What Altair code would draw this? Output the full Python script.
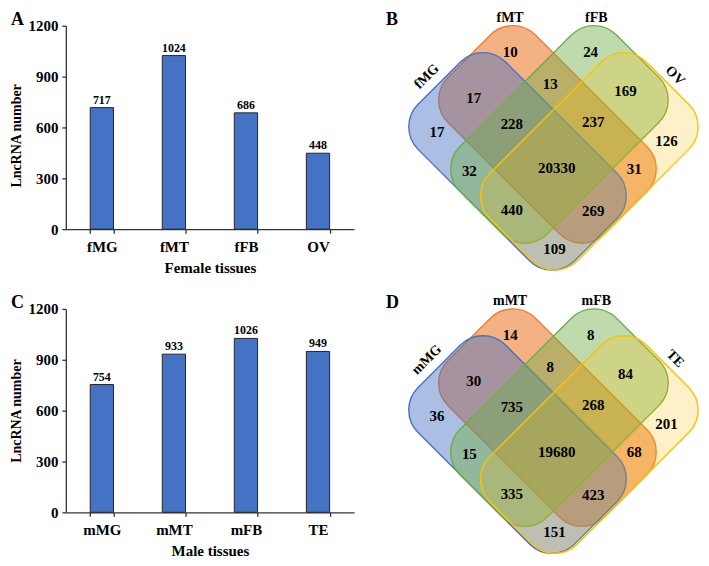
import altair as alt
import pandas as pd

FONT = "Liberation Serif"

# ---------------- data ----------------
female_tissues = ["fMG", "fMT", "fFB", "OV"]
female_counts = [717, 1024, 686, 448]
male_tissues = ["mMG", "mMT", "mFB", "TE"]
male_counts = [754, 933, 1026, 949]
y_ticks = [0, 300, 600, 900, 1200]

female_sets = ["fMG", "fMT", "fFB", "OV"]
male_sets = ["mMG", "mMT", "mFB", "TE"]
region_names = ["MT", "FB", "MG&MT", "MT&FB", "FB&OV", "MG", "MG&MT&FB",
                "MT&FB&OV", "OV", "MG&FB", "MG&MT&FB&OV", "MT&OV",
                "MG&FB&OV", "MG&MT&OV", "MG&OV"]
female_region_counts = [10, 24, 17, 13, 169, 17, 228, 237, 126, 32, 20330, 31, 440, 269, 109]
male_region_counts = [14, 8, 30, 8, 84, 36, 735, 268, 201, 15, 19680, 68, 335, 423, 151]

# ---------------- layout (venn geometry, px in panel frame) ----------------
VX0, VY0 = 373, 17
region_x = [521.7, 602.3, 485, 561.7, 637.3, 448.3, 523.3, 605, 678.3, 480.7, 568.3, 646, 523.3, 605, 566]
region_y = [43.3, 43.3, 89.3, 75, 82.7, 124, 115.7, 113.3, 132.7, 162.7, 160, 160.7, 202.3, 203.3, 240.7]
set_cx = [529, 559, 571, 601]
set_cy = [153, 126, 126, 153]
set_angle = [45, 45, 315, 315]
set_colors = ["#4472C4", "#ED7D31", "#70AD47", "#FFC000"]
set_fill_opacity = [0.45, 0.6, 0.45, 0.22]
draw_order = [1, 0, 2, 3]
label_x = [438, 521.5, 608, 687]
label_y = [68, 2, 2, 67]
label_angle = [315, 0, 0, 45]
RECT_L, RECT_W, RECT_R = 222, 124, 32
VW, VH = 338, 248


def rounded_rect_path(half_w, q):
    k = 0.5523 * q
    w = half_w
    f = lambda v: f"{v:.4f}"
    parts = [
        f"M{f(-1+q)},{f(-w)}",
        f"L{f(1-q)},{f(-w)}",
        f"C{f(1-q+k)},{f(-w)} 1,{f(-w+q-k)} 1,{f(-w+q)}",
        f"L1,{f(w-q)}",
        f"C1,{f(w-q+k)} {f(1-q+k)},{f(w)} {f(1-q)},{f(w)}",
        f"L{f(-1+q)},{f(w)}",
        f"C{f(-1+q-k)},{f(w)} -1,{f(w-q+k)} -1,{f(w-q)}",
        f"L-1,{f(-w+q)}",
        f"C-1,{f(-w+q-k)} {f(-1+q-k)},{f(-w)} {f(-1+q)},{f(-w)}",
        "Z",
    ]
    return " ".join(parts)


RR_PATH = rounded_rect_path(RECT_W / RECT_L, 2 * RECT_R / RECT_L)


def bar_panel(tissues, counts, letter, xtitle, ytitle_y):
    df = pd.DataFrame({"tissue": tissues, "count": counts})
    base = alt.Chart(df)
    x = alt.X("tissue:N", sort=tissues,
              scale=alt.Scale(paddingInner=0.677, paddingOuter=0.3385),
              axis=alt.Axis(title=xtitle, labelAngle=0, tickBand="extent", tickSize=4,
                            labelPadding=6, titleY=43, titleBaseline="alphabetic"))
    y = alt.Y("count:Q", scale=alt.Scale(domain=[0, 1200], nice=False),
              axis=alt.Axis(values=y_ticks, format="d", grid=False, title="LncRNA number",
                            titleAngle=270, titleX=-45, titleY=ytitle_y,
                            titleAlign="center", titleBaseline="alphabetic",
                            titleFontSize=14, tickSize=4, labelPadding=4))
    bars = base.mark_bar(color="#4472C4", stroke="#262626", strokeWidth=1).encode(x=x, y=y)
    labels = base.mark_text(dy=-4, baseline="alphabetic", font=FONT, fontSize=12,
                            fontWeight="bold", color="black").encode(
        x=alt.X("tissue:N", sort=tissues), y="count:Q", text="count:Q")
    let = alt.Chart(pd.DataFrame({"t": [letter]})).mark_text(
        align="left", baseline="top", font=FONT, fontSize=18, fontWeight="bold",
        color="black").encode(text="t:N", x=alt.value(-55), y=alt.value(-15))
    return alt.layer(bars, labels, let).properties(width=289, height=204)


def venn_panel(set_names, region_counts, letter):
    xs = alt.Scale(domain=[0, VW], nice=False, zero=False)
    ys = alt.Scale(domain=[0, VH], nice=False, zero=False, reverse=True)
    shapes = pd.DataFrame({
        "name": [set_names[i] for i in draw_order],
        "x": [set_cx[i] - VX0 for i in draw_order],
        "y": [set_cy[i] - VY0 for i in draw_order],
        "ang": [set_angle[i] for i in draw_order],
        "col": [set_colors[i] for i in draw_order],
        "fo": [set_fill_opacity[i] for i in draw_order],
    })
    shape_layer = alt.Chart(shapes).mark_point(
        shape=RR_PATH, filled=True, size=RECT_L * RECT_L, opacity=1,
        strokeWidth=1.4, strokeOpacity=1).encode(
        x=alt.X("x:Q", scale=xs, axis=None),
        y=alt.Y("y:Q", scale=ys, axis=None),
        fill=alt.Fill("col:N", scale=None),
        stroke=alt.Stroke("col:N", scale=None),
        fillOpacity=alt.FillOpacity("fo:Q", scale=None),
        angle=alt.Angle("ang:Q", scale=None),
    )
    regions = pd.DataFrame({
        "region": region_names,
        "n": region_counts,
        "x": [v - VX0 for v in region_x],
        "y": [v - VY0 for v in region_y],
    })
    count_layer = alt.Chart(regions).mark_text(
        font=FONT, fontSize=15, fontWeight="bold", color="black",
        align="center", baseline="middle").encode(
        x=alt.X("x:Q", scale=xs, axis=None), y=alt.Y("y:Q", scale=ys, axis=None),
        text="n:Q")
    labs = pd.DataFrame({
        "name": set_names,
        "x": [v - VX0 for v in label_x],
        "y": [v - VY0 for v in label_y],
        "ang": label_angle,
    })
    top_labs = alt.Chart(labs).transform_filter("datum.ang == 0").mark_text(
        font=FONT, fontSize=14, fontWeight="bold", color="black",
        align="center", baseline="top").encode(
        x=alt.X("x:Q", scale=xs, axis=None), y=alt.Y("y:Q", scale=ys, axis=None),
        text="name:N")
    rot_labs = alt.Chart(labs).transform_filter("datum.ang != 0").mark_text(
        font=FONT, fontSize=14, fontWeight="bold", color="black",
        align="center", baseline="middle").encode(
        x=alt.X("x:Q", scale=xs, axis=None), y=alt.Y("y:Q", scale=ys, axis=None),
        text="name:N", angle=alt.Angle("ang:Q", scale=None))
    let = alt.Chart(pd.DataFrame({"t": [letter]})).mark_text(
        align="left", baseline="top", font=FONT, fontSize=18, fontWeight="bold",
        color="black").encode(text="t:N", x=alt.value(24), y=alt.value(-15))
    return alt.layer(shape_layer, count_layer, top_labs, rot_labs, let).properties(
        width=VW, height=VH)


panelA = bar_panel(female_tissues, female_counts, "A", "Female tissues", 110)
panelB = venn_panel(female_sets, female_region_counts, "B")
panelC = bar_panel(male_tissues, male_counts, "C", "Male tissues", 102)
panelD = venn_panel(male_sets, male_region_counts, "D")

row1 = alt.hconcat(panelA, panelB, spacing=8)
row2 = alt.hconcat(panelC, panelD, spacing=8)

chart = alt.vconcat(row1, row2, spacing=19).properties(
    padding={"left": 2, "top": 2, "right": 0, "bottom": 0}).configure_view(
    stroke=None).configure_axis(
    labelFont=FONT, labelFontSize=15, labelFontWeight="bold", labelColor="black",
    titleFont=FONT, titleFontSize=15, titleFontWeight="bold", titleColor="black",
    domainColor="#333333", tickColor="#333333", domainWidth=1.3, tickWidth=1.3)

chart.save("out.html", embed_options={"renderer": "svg", "actions": False})
